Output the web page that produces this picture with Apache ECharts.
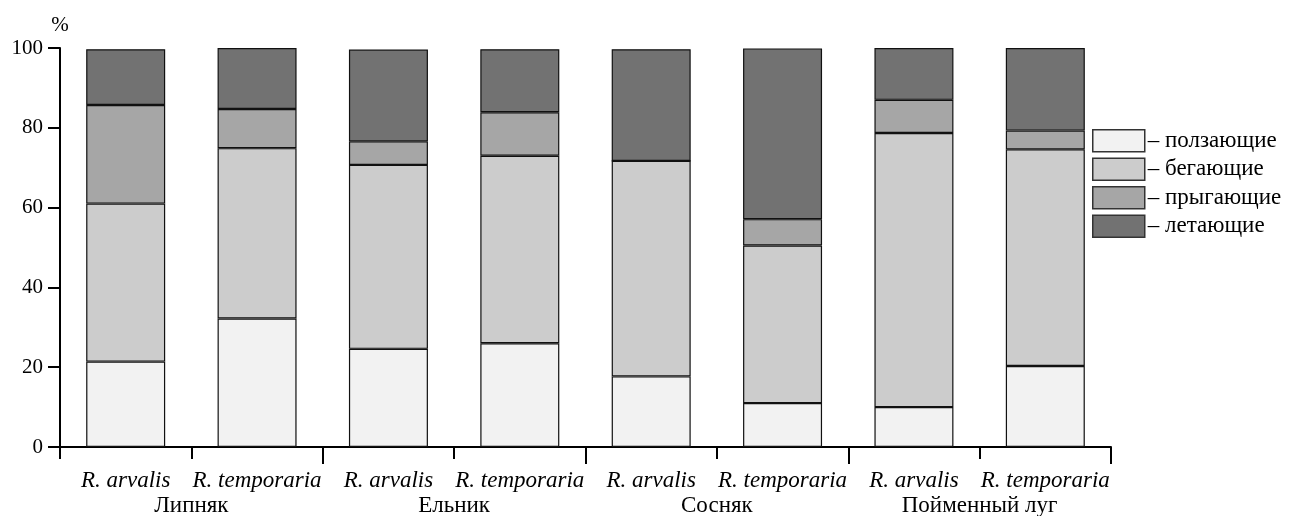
<!DOCTYPE html>
<html>
<head>
<meta charset="utf-8">
<script src="https://cdn.jsdelivr.net/npm/echarts@6/dist/echarts.min.js"></script>
<style>
html,body{margin:0;padding:0;background:#fff;}
#c{width:1292px;height:516px;}
</style>
</head>
<body>
<div id="c"></div>
<script>
var categories = ['R. arvalis','R. temporaria','R. arvalis','R. temporaria','R. arvalis','R. temporaria','R. arvalis','R. temporaria'];
var groups = ['Липняк','Ельник','Сосняк','Пойменный луг'];
var seriesNames = ['ползающие','бегающие','прыгающие','летающие'];
var crawling = [21.4, 32.2, 24.6, 26.0, 17.7, 11.0, 10.0, 20.3];
var running  = [39.6, 42.7, 46.1, 47.0, 54.0, 39.5, 68.7, 54.3];
var jumping  = [24.7, 9.8, 5.9, 10.9, 0, 6.6, 8.3, 4.7];
var flying   = [14.0, 15.3, 23.0, 15.8, 28.0, 42.8, 13.0, 20.7];
var yTicks = [0, 20, 40, 60, 80, 100];
var colors = ['#f2f2f2','#cccccc','#a6a6a6','#727272'];

var FONT = '"Liberation Serif","Times New Roman",serif';
var chart = echarts.init(document.getElementById('c'), null, {renderer:'canvas'});
var dataArr = [crawling, running, jumping, flying];
var series = seriesNames.map(function(n,i){
  return {
    name: n, type: 'bar', stack: 'total', xAxisIndex: 0, yAxisIndex: 0,
    barWidth: 79,
    data: dataArr[i],
    itemStyle: {color: colors[i], borderColor: '#111', borderWidth: 1.2},
    emphasis: {disabled: true}
  };
});
chart.setOption({
  animation: false,
  textStyle: {fontFamily: FONT},
  grid: {left: 60, right: 181, top: 48, bottom: 69, containLabel: false, outerBoundsMode: 'none'},
  legend: {
    orient: 'vertical', left: 1092, top: 129, padding: 0,
    itemWidth: 52, itemHeight: 22, itemGap: 5,
    data: seriesNames,
    icon: 'rect',
    formatter: function(n){ return '– ' + n; },
    textStyle: {fontFamily: FONT, fontSize: 23, lineHeight: 22, color: '#000', padding: [0,0,0,-2]},
    itemStyle: {borderColor: '#333', borderWidth: 1.5},
    selectedMode: false
  },
  xAxis: [{
    type: 'category', data: categories, position: 'bottom',
    axisLine: {show: true, lineStyle: {color: '#000', width: 2}},
    axisTick: {show: true, length: 12, lineStyle: {color: '#000', width: 2}},
    axisLabel: {color: '#000', fontFamily: FONT, fontSize: 23, fontStyle: 'italic', margin: 22, interval: 0},
    splitLine: {show: false}
  },{
    type: 'category', data: groups, position: 'bottom',
    axisLine: {show: false},
    axisTick: {show: true, length: 17, lineStyle: {color: '#000', width: 2},
      interval: function(idx){ return idx !== 0; }},
    axisLabel: {color: '#000', fontFamily: FONT, fontSize: 23, margin: 47, interval: 0},
    splitLine: {show: false}
  }],
  yAxis: {
    type: 'value', min: yTicks[0], max: yTicks[yTicks.length-1], interval: 20,
    name: '%', nameLocation: 'end', nameGap: 12,
    nameTextStyle: {color: '#000', fontFamily: FONT, fontSize: 21, align: 'center'},
    axisLine: {show: true, lineStyle: {color: '#000', width: 2}},
    axisTick: {show: true, length: 12, lineStyle: {color: '#000', width: 2}},
    axisLabel: {color: '#000', fontFamily: FONT, fontSize: 21, margin: 17},
    splitLine: {show: false}
  },
  series: series
});
</script>
</body>
</html>
